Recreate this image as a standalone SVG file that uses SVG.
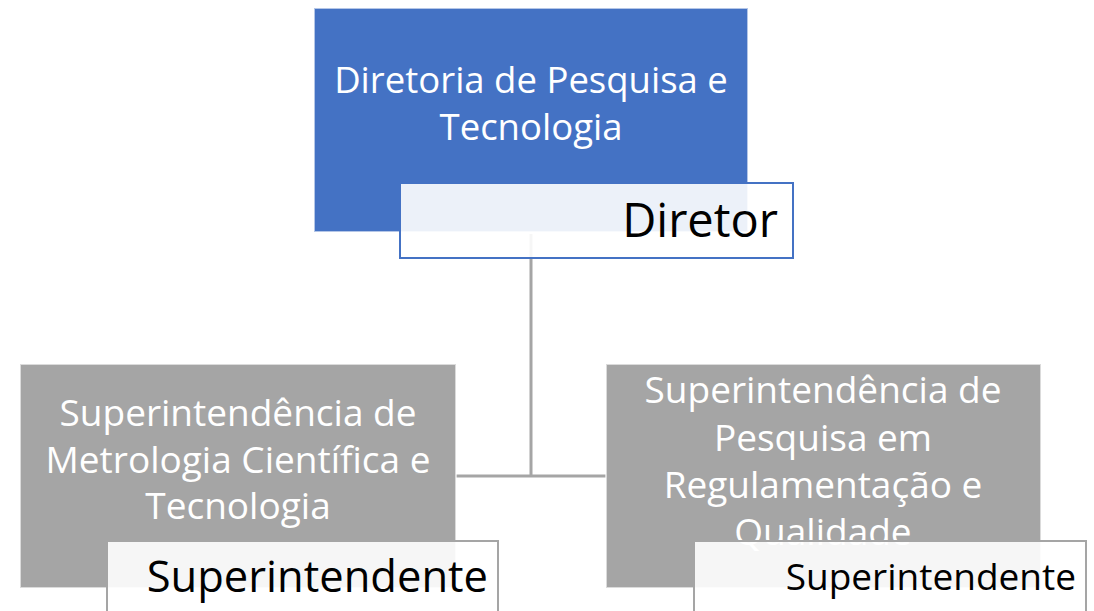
<svg xmlns="http://www.w3.org/2000/svg" width="1094" height="611" viewBox="0 0 1094 611">
<style>
.box{stroke:#ffffff;stroke-opacity:0.6;stroke-width:2}
.blue{fill:#4472C4}
.gray{fill:#A5A5A5}
.lbl{fill:#ffffff;fill-opacity:0.9;stroke-width:2}
.t{font-family:"Open Sans","Noto Sans","Liberation Sans",sans-serif;fill:#ffffff;font-size:36.5px;text-anchor:middle}
.g{font-size:37px}
.k{font-family:"Open Sans","Noto Sans","Liberation Sans",sans-serif;fill:#000000;text-anchor:end}
.conn{stroke:#A5A5A5;stroke-width:3;fill:none}
</style>
<rect width="1094" height="611" fill="#ffffff"/>
<g id="connectors">
<path class="conn" d="M531,234 V476"/>
<path class="conn" d="M456,476 H606"/>
</g>
<g id="node-diretoria">
<rect class="box blue" x="314" y="8" width="434" height="224"/>
<text class="t" x="531" y="93">Diretoria de Pesquisa e</text>
<text class="t" x="531" y="140">Tecnologia</text>
<rect class="lbl" x="400" y="183" width="393" height="75" stroke="#4472C4"/>
<text class="k" x="778" y="237" font-size="47">Diretor</text>
</g>
<g id="node-metrologia">
<rect class="box gray" x="20" y="364" width="436" height="224"/>
<text class="t g" x="238" y="426">Superintendência de</text>
<text class="t g" x="238" y="473">Metrologia Científica e</text>
<text class="t g" x="238" y="519">Tecnologia</text>
<rect class="lbl" x="107" y="541" width="391" height="80" stroke="#A5A5A5"/>
<text class="k" x="488" y="592" font-size="43.5">Superintendente</text>
</g>
<g id="node-regulamentacao">
<rect class="box gray" x="606" y="364" width="435" height="224"/>
<text class="t g" x="823" y="403">Superintendência de</text>
<text class="t g" x="823" y="451">Pesquisa em</text>
<text class="t g" x="823" y="498">Regulamentação e</text>
<text class="t g" x="823" y="545">Qualidade</text>
<rect class="lbl" x="694" y="541" width="392" height="80" stroke="#A5A5A5"/>
<text class="k" x="1076" y="590" font-size="37">Superintendente</text>
</g>
</svg>
